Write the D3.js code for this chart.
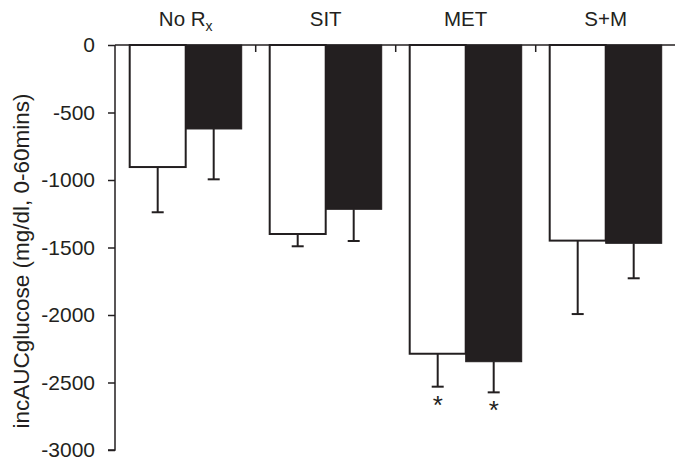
<!DOCTYPE html>
<html lang="en">
<head>
  <meta charset="UTF-8" />
  <title>incAUC glucose</title>
  <script src="https://d3js.org/d3.v7.min.js"></script>
  <style>
    body { margin: 0; background: #fff; }
    svg { font-family: "Liberation Sans", Arial, sans-serif; }
    .bar-open { fill: #fff; stroke: #231f20; stroke-width: 2px; }
    .bar-solid { fill: #231f20; stroke: #231f20; stroke-width: 1px; }
    .err { stroke: #231f20; stroke-width: 2px; }
  </style>
</head>
<body>
  <svg id="chart" width="675" height="463"></svg>
  <script>
    const groups = ['No Rx', 'SIT', 'MET', 'S+M'];
    const series = ['open', 'solid'];
    const meanOpen = [-904, -1400, -2287, -1449];
    const meanSolid = [-622, -1217, -2346, -1469];
    const errOpen = [335, 91, 244, 544];
    const errSolid = [373, 235, 227, 259];
    const starOpen = [false, false, true, false];
    const starSolid = [false, false, true, false];
    const yTicks = [0, -500, -1000, -1500, -2000, -2500, -3000];

    const svg = d3.select('#chart');
    const ink = '#231f20';

    const x = d3.scaleBand().domain(groups).range([115.7, 675.7]);
    const xs = d3.scaleBand().domain(series).range([0, x.bandwidth()]).paddingOuter(0.25);
    const y = d3.scaleLinear().domain([0, -3000]).range([45, 450]);

    const rows = [];
    groups.forEach((g, i) => {
      rows.push({ g, s: 'open', v: meanOpen[i], e: errOpen[i], star: starOpen[i] });
      rows.push({ g, s: 'solid', v: meanSolid[i], e: errSolid[i], star: starSolid[i] });
    });

    // bars
    svg.selectAll('rect.bar').data(rows).join('rect')
      .attr('class', d => 'bar bar-' + d.s)
      .attr('x', d => x(d.g) + xs(d.s))
      .attr('y', y(0))
      .attr('width', xs.bandwidth())
      .attr('height', d => y(d.v) - y(0));

    // error bars (downward only)
    const cx = d => x(d.g) + xs(d.s) + xs.bandwidth() / 2;
    const eb = svg.selectAll('g.eb').data(rows).join('g').attr('class', 'eb');
    eb.append('line').attr('class', 'err')
      .attr('x1', cx).attr('x2', cx)
      .attr('y1', d => y(d.v))
      .attr('y2', d => y(d.v - d.e));
    eb.append('line').attr('class', 'err')
      .attr('x1', d => cx(d) - 6)
      .attr('x2', d => cx(d) + 6)
      .attr('y1', d => y(d.v - d.e))
      .attr('y2', d => y(d.v - d.e));

    svg.selectAll('text.star').data(rows.filter(d => d.star)).join('text')
      .attr('class', 'star')
      .attr('x', cx)
      .attr('y', d => y(d.v - d.e) + 27)
      .attr('text-anchor', 'middle')
      .attr('font-size', 26)
      .attr('fill', ink)
      .text('*');

    // y axis
    const yAxis = svg.append('g').attr('transform', 'translate(115,0)')
      .call(d3.axisLeft(y).tickValues(yTicks).tickSize(7).tickPadding(13).tickFormat(d3.format('d')));
    yAxis.select('.domain').attr('stroke', ink).attr('stroke-width', 1.5).attr('d', `M-7,${y(-3000)}H0V${y(0)}`);
    yAxis.selectAll('.tick line').attr('stroke', ink).attr('stroke-width', 1.5);
    yAxis.selectAll('.tick text').attr('font-size', 21).attr('fill', ink)
      .attr('font-family', '"Liberation Sans", Arial, sans-serif')
      .text(d => d === 0 ? '0' : '-' + Math.abs(d));

    // zero line with group separators
    svg.append('line')
      .attr('x1', 115).attr('x2', 675).attr('y1', y(0)).attr('y2', y(0))
      .attr('stroke', ink).attr('stroke-width', 1.5);
    svg.selectAll('line.sep').data(groups.slice(1)).join('line')
      .attr('class', 'sep')
      .attr('x1', d => x(d)).attr('x2', d => x(d))
      .attr('y1', y(0)).attr('y2', y(0) + 7)
      .attr('stroke', ink).attr('stroke-width', 1.5);

    // group labels on top
    const lab = svg.selectAll('text.grp').data(groups).join('text')
      .attr('class', 'grp')
      .attr('x', d => x(d) + x.bandwidth() / 2)
      .attr('y', 26)
      .attr('text-anchor', 'middle')
      .attr('font-size', 20.5)
      .attr('fill', ink);
    lab.each(function (d) {
      const t = d3.select(this);
      if (d === 'No Rx') {
        t.append('tspan').text('No R');
        t.append('tspan').attr('font-size', 14).attr('dy', 5).text('x');
      } else {
        t.text(d);
      }
    });

    // y label
    svg.append('text')
      .attr('transform', 'translate(29,261) rotate(-90)')
      .attr('text-anchor', 'middle')
      .attr('font-size', 22.5)
      .attr('fill', ink)
      .text('incAUCglucose (mg/dl, 0-60mins)');
  </script>
</body>
</html>
